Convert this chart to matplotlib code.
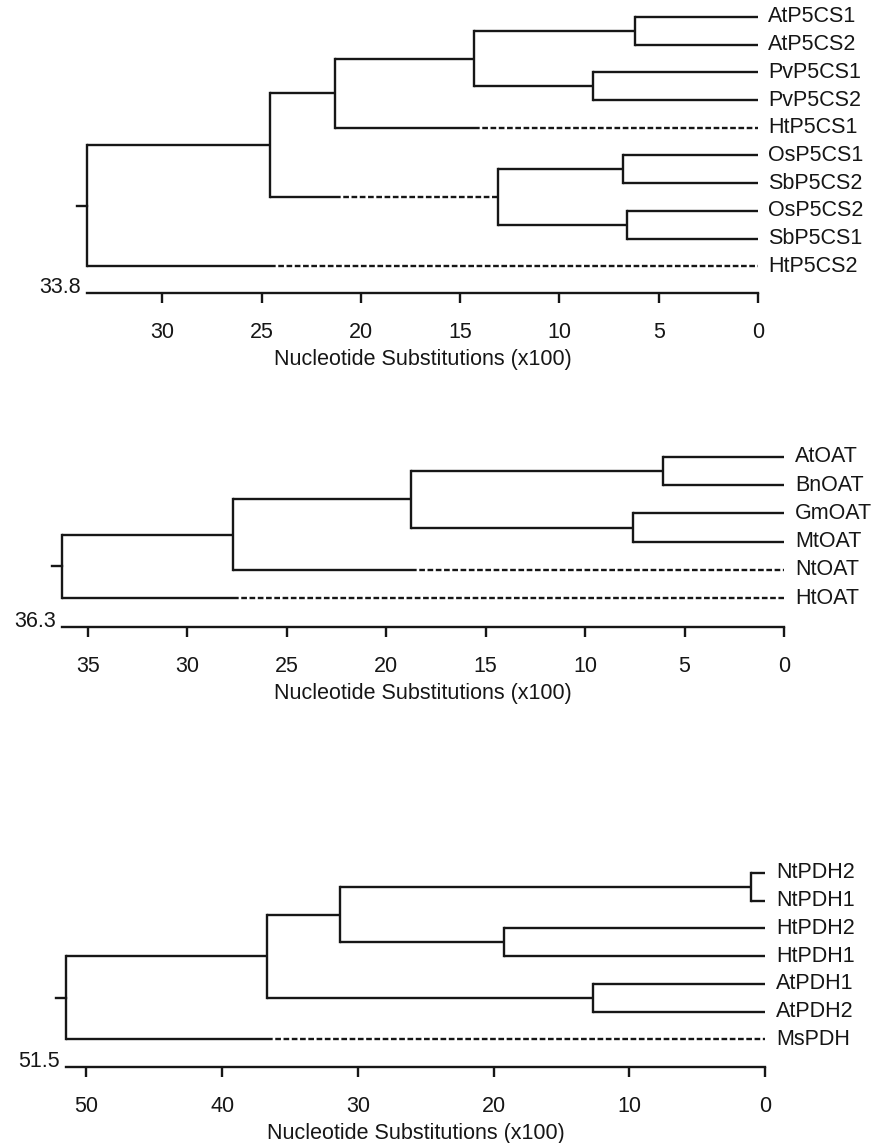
import matplotlib
matplotlib.use('Agg')
import matplotlib.pyplot as plt

plt.rcParams['font.family'] = ['Liberation Sans', 'DejaVu Sans']

# --- P5CS tree ---
p5cs_leaves = ['AtP5CS1', 'AtP5CS2', 'PvP5CS1', 'PvP5CS2', 'HtP5CS1',
               'OsP5CS1', 'SbP5CS2', 'OsP5CS2', 'SbP5CS1', 'HtP5CS2']
# (name, left child, right child, height)
p5cs_nodes = [('n1', 'AtP5CS1', 'AtP5CS2', 6.2),
              ('n2', 'PvP5CS1', 'PvP5CS2', 8.3),
              ('n3', 'n1', 'n2', 14.3),
              ('n4', 'n3', 'HtP5CS1', 21.3),
              ('n5', 'OsP5CS1', 'SbP5CS2', 6.8),
              ('n6', 'OsP5CS2', 'SbP5CS1', 6.6),
              ('n7', 'n5', 'n6', 13.1),
              ('n8', 'n4', 'n7', 24.6),
              ('root', 'n8', 'HtP5CS2', 33.8)]
p5cs_dash = {'HtP5CS1': 14.3, 'n7': 21.3, 'HtP5CS2': 24.6}
p5cs_ticks = [30, 25, 20, 15, 10, 5, 0]

# --- OAT tree ---
oat_leaves = ['AtOAT', 'BnOAT', 'GmOAT', 'MtOAT', 'NtOAT', 'HtOAT']
oat_nodes = [('a', 'AtOAT', 'BnOAT', 6.1),
             ('b', 'GmOAT', 'MtOAT', 7.6),
             ('c', 'a', 'b', 18.75),
             ('d', 'c', 'NtOAT', 27.7),
             ('root', 'd', 'HtOAT', 36.3)]
oat_dash = {'NtOAT': 18.75, 'HtOAT': 27.7}
oat_ticks = [35, 30, 25, 20, 15, 10, 5, 0]

# --- PDH tree ---
pdh_leaves = ['NtPDH2', 'NtPDH1', 'HtPDH2', 'HtPDH1', 'AtPDH1', 'AtPDH2', 'MsPDH']
pdh_nodes = [('a', 'NtPDH2', 'NtPDH1', 1.0),
             ('b', 'HtPDH2', 'HtPDH1', 19.2),
             ('c', 'a', 'b', 31.3),
             ('d', 'AtPDH1', 'AtPDH2', 12.7),
             ('e', 'c', 'd', 36.7),
             ('root', 'e', 'MsPDH', 51.5)]
pdh_dash = {'MsPDH': 36.7}
pdh_ticks = [50, 40, 30, 20, 10, 0]

W, H = 875, 1143
col = '#161616'
fs = 15.5
lw = 1.7
dash = (0, (2.4, 1.1))

fig = plt.figure(figsize=(W / 100, H / 100), dpi=100)


def draw_tree(leaves, nodes, dashes, ticks, x0, x1, y_first, spacing, y_axis, lab_off):
    top = y_first - spacing * 0.6
    ax = fig.add_axes([x0 / W, 1 - y_axis / H, (x1 - x0) / W, (y_axis - top) / H])
    root_h = nodes[-1][3]
    ax.set_xlim(root_h, 0)
    ax.set_ylim((y_axis - y_first) / spacing, (top - y_first) / spacing)

    ypos = {name: i for i, name in enumerate(leaves)}
    hgt = {name: 0.0 for name in leaves}
    for name, l, r, h in nodes:
        ypos[name] = (ypos[l] + ypos[r]) / 2
        hgt[name] = h
        ax.plot([h, h], [ypos[l], ypos[r]], color=col, lw=lw, clip_on=False,
                solid_capstyle='projecting')
        for c in (l, r):
            d = dashes.get(c)
            if d is None:
                ax.plot([h, hgt[c]], [ypos[c], ypos[c]], color=col, lw=lw,
                        clip_on=False, solid_capstyle='butt')
            else:
                ax.plot([h, d], [ypos[c], ypos[c]], color=col, lw=lw,
                        clip_on=False, solid_capstyle='butt')
                ax.plot([d, hgt[c]], [ypos[c], ypos[c]], color=col, lw=lw,
                        ls=dash, clip_on=False)

    # root stub
    units_per_px = root_h / (x1 - x0)
    ax.plot([root_h, root_h + 10 * units_per_px], [ypos['root']] * 2,
            color=col, lw=lw, clip_on=False)

    for name in leaves:
        ax.annotate(name, (0, ypos[name]), xytext=(lab_off, 0),
                    textcoords='offset pixels', va='center', ha='left',
                    fontsize=fs, color=col, annotation_clip=False)

    ax.annotate(f'{root_h:.1f}', (0, 0), xycoords='axes fraction',
                xytext=(-6, 0), textcoords='offset pixels',
                ha='right', va='baseline', fontsize=fs, color=col)

    for s in ('left', 'top', 'right'):
        ax.spines[s].set_visible(False)
    ax.spines['bottom'].set_linewidth(lw)
    ax.spines['bottom'].set_color(col)
    ax.set_yticks([])
    ax.set_xticks(ticks)
    ax.set_xticklabels([str(t) for t in ticks])
    ax.tick_params(axis='x', direction='out', length=7.2, width=lw,
                   color=col, pad=14, labelsize=fs, labelcolor=col)
    ax.set_xlabel('Nucleotide Substitutions (x100)', fontsize=fs, color=col,
                  labelpad=4)
    ax.patch.set_visible(False)
    return ax


draw_tree(p5cs_leaves, p5cs_nodes, p5cs_dash, p5cs_ticks,
          87, 758, 17, 27.7, 293, 10)
draw_tree(oat_leaves, oat_nodes, oat_dash, oat_ticks,
          62, 784, 457, 28.2, 627, 11)
draw_tree(pdh_leaves, pdh_nodes, pdh_dash, pdh_ticks,
          66, 765, 873, 27.7, 1067, 11)

fig.savefig('out.png', dpi=100)
